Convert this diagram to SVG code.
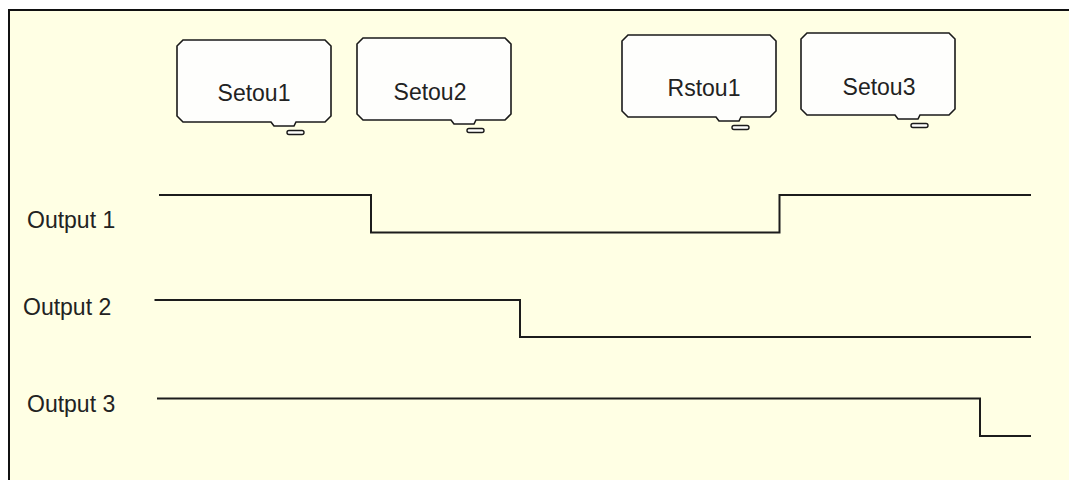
<svg xmlns="http://www.w3.org/2000/svg" width="1069" height="480" viewBox="0 0 1069 480">
  <style>
    .bg { fill: #FFFFE4; }
    .frame { stroke: #111; stroke-width: 2; fill: none; }
    .box { fill: #FEFEFC; stroke: #1a1a1a; stroke-width: 1.6; stroke-linejoin: miter; }
    .cap { fill: #FEFEFC; stroke: #1a1a1a; stroke-width: 1.4; }
    .lbl { font-family: "Liberation Sans", Arial, sans-serif; font-size: 23px; fill: #222; }
    .wave { fill: none; stroke: #1c1c1c; stroke-width: 2; }
  </style>
  <defs>
    <g id="bubble">
      <path class="box" d="M6,0 H148 L154,6 V76 L148,82 H119 L117,86 H97 L94,82 H6 L0,76 V6 Z"/>
      <rect class="cap" x="110" y="90.5" width="17" height="4" rx="2"/>
    </g>
  </defs>
  <rect width="1069" height="480" fill="#ffffff"/>
  <rect class="bg" x="10" y="10" width="1059" height="470"/>
  <path class="frame" d="M9,480 V10 H1069"/>

  <g id="setou1">
    <use href="#bubble" x="177" y="40"/>
    <text class="lbl" x="254" y="101" text-anchor="middle">Setou1</text>
  </g>
  <g id="setou2">
    <use href="#bubble" x="357" y="38"/>
    <text class="lbl" x="430" y="100" text-anchor="middle">Setou2</text>
  </g>
  <g id="rstou1">
    <use href="#bubble" x="622" y="35"/>
    <text class="lbl" x="704" y="96" text-anchor="middle">Rstou1</text>
  </g>
  <g id="setou3">
    <use href="#bubble" x="801" y="33"/>
    <text class="lbl" x="879" y="94.5" text-anchor="middle">Setou3</text>
  </g>

  <g id="output1">
    <text class="lbl" x="27" y="228">Output 1</text>
  </g>
  <g id="output2">
    <text class="lbl" x="23" y="315">Output 2</text>
  </g>
  <g id="output3">
    <text class="lbl" x="27" y="411.5">Output 3</text>
  </g>

  <g id="connectors">
    <path class="wave" d="M159,195 H371 V232.5 H779.5 V195 H1031"/>
    <path class="wave" d="M154.5,300 H520 V337 H1031"/>
    <path class="wave" d="M157,398.5 H980 V436 H1031"/>
  </g>
</svg>
